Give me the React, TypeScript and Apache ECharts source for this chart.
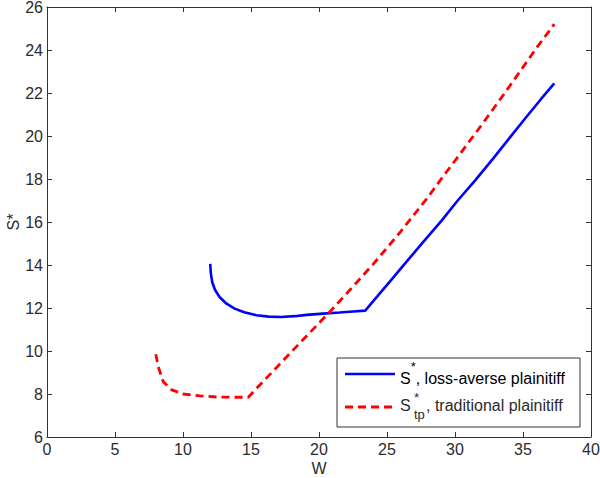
import React, { useEffect, useRef } from "react";
import * as echarts from "echarts";

// Data
const blueW = [12.0, 12.05, 12.15, 12.35, 12.7, 13.2, 13.8, 14.5, 15.4, 16.3, 17.2, 18.2, 19.1, 20.3, 21.5, 22.5, 23.4, 24.3, 25.3, 26.5, 27.7, 29.0, 30.2, 31.5, 32.8, 34.0, 35.2, 36.3, 37.3];
const blueS = [14.05, 13.6, 13.2, 12.85, 12.5, 12.2, 11.97, 11.8, 11.66, 11.6, 11.58, 11.62, 11.68, 11.74, 11.79, 11.84, 11.88, 12.55, 13.3, 14.2, 15.1, 16.05, 17.0, 17.95, 18.95, 19.9, 20.85, 21.7, 22.45];

const redW = [8.0, 8.18, 8.55, 9.17, 10.0, 11.25, 12.5, 13.7, 14.8, 16, 18, 20, 20.7, 22, 23, 24, 26, 28, 29.1, 30, 32, 34, 36, 37.3];
const redS = [9.85, 9.27, 8.57, 8.19, 8.0, 7.91, 7.86, 7.85, 7.85, 8.65, 9.98, 11.3, 11.76, 12.65, 13.35, 14.05, 15.55, 17.15, 18.1, 18.85, 20.55, 22.3, 24.1, 25.2];

const xTicksMin = 0;
const xTicksMax = 40;
const xInterval = 5;
const yTicksMin = 6;
const yTicksMax = 26;
const yInterval = 2;

const legendLabels = [", loss-averse plainitiff", ", traditional plainitiff"];

const FONT = "'Liberation Sans', Arial, Helvetica, sans-serif";
const AXIS_COLOR = "#333";
const TEXT_COLOR = "#2b2b2b";

export default function App() {
  const ref = useRef<HTMLDivElement>(null);

  useEffect(() => {
    document.body.style.margin = "0";
    if (!ref.current) return;
    const chart = echarts.init(ref.current, undefined, { renderer: "svg" });

    const axisCommon = {
      type: "value" as const,
      axisLine: { show: true, onZero: false, lineStyle: { color: AXIS_COLOR, width: 1 } },
      axisTick: { show: true, inside: true, length: 5, lineStyle: { color: AXIS_COLOR, width: 1 } },
      splitLine: { show: false },
    };

    const blueData = blueW.map((w, i) => [w, blueS[i]]);
    const redData = redW.map((w, i) => [w, redS[i]]);

    const lx = 337, ly = 358, lw = 243, lh = 69;

    chart.setOption({
      animation: false,
      backgroundColor: "#fff",
      grid: { left: 47, right: 9, top: 7, bottom: 41, containLabel: false, outerBoundsMode: "none" },
      xAxis: [
        {
          ...axisCommon,
          position: "bottom",
          min: xTicksMin,
          max: xTicksMax,
          interval: xInterval,
          axisLabel: { show: true, color: TEXT_COLOR, fontSize: 16, fontFamily: FONT, margin: 4 },
          name: "W",
          nameLocation: "middle",
          nameGap: 23,
          nameMoveOverlap: false,
          nameTextStyle: { color: TEXT_COLOR, fontSize: 16, fontFamily: FONT },
        },
        {
          ...axisCommon,
          position: "top",
          min: xTicksMin,
          max: xTicksMax,
          interval: xInterval,
          axisLabel: { show: false },
        },
      ],
      yAxis: [
        {
          ...axisCommon,
          position: "left",
          min: yTicksMin,
          max: yTicksMax,
          interval: yInterval,
          axisLabel: { show: true, color: TEXT_COLOR, fontSize: 16, fontFamily: FONT, margin: 4 },
          name: "S*",
          nameLocation: "middle",
          nameRotate: 90,
          nameGap: 26,
          nameMoveOverlap: false,
          nameTextStyle: { color: TEXT_COLOR, fontSize: 16, fontFamily: FONT },
        },
        {
          ...axisCommon,
          position: "right",
          min: yTicksMin,
          max: yTicksMax,
          interval: yInterval,
          axisLabel: { show: false },
        },
      ],
      series: [
        {
          type: "line",
          xAxisIndex: 0,
          yAxisIndex: 0,
          data: blueData,
          showSymbol: false,
          symbol: "none",
          lineStyle: { color: "#0000ff", width: 2.6 },
        },
        {
          type: "line",
          xAxisIndex: 0,
          yAxisIndex: 0,
          data: redData,
          showSymbol: false,
          symbol: "none",
          lineStyle: { color: "#ff0000", width: 2.8, type: [8, 5] },
        },
      ],
      graphic: [
        {
          type: "rect",
          shape: { x: lx, y: ly, width: lw, height: lh },
          style: { fill: "#fff", stroke: AXIS_COLOR, lineWidth: 1 },
          z: 100,
        },
        {
          type: "line",
          shape: { x1: 345, y1: 374, x2: 395, y2: 374 },
          style: { stroke: "#0000ff", lineWidth: 2.6 },
          z: 101,
        },
        {
          type: "line",
          shape: { x1: 345, y1: 407, x2: 395, y2: 407 },
          style: { stroke: "#ff0000", lineWidth: 2.8, lineDash: [8, 5] },
          z: 101,
        },
        // line 1 text (rich: S with superscript *)
        {
          type: "text", x: 400, y: 373, z: 101,
          style: {
            text: "{m|S}{sup|*}{m|" + legendLabels[0] + "}",
            textVerticalAlign: "middle",
            rich: {
              m: { fontSize: 16, fontFamily: FONT, color: TEXT_COLOR, lineHeight: 26, verticalAlign: "bottom" },
              sup: { fontSize: 13, fontFamily: FONT, color: TEXT_COLOR, lineHeight: 14, verticalAlign: "top" },
            },
          },
        },
        // line 2 text
        {
          type: "text", x: 400, y: 405, z: 101,
          style: { text: "S", font: `16px ${FONT}`, fill: TEXT_COLOR, textVerticalAlign: "middle" },
        },
        {
          type: "text", x: 414, y: 397, z: 101,
          style: { text: "*", font: `13px ${FONT}`, fill: TEXT_COLOR, textVerticalAlign: "middle" },
        },
        {
          type: "text", x: 414, y: 414, z: 101,
          style: { text: "tp", font: `13px ${FONT}`, fill: TEXT_COLOR, textVerticalAlign: "middle" },
        },
        {
          type: "text", x: 426, y: 405, z: 101,
          style: { text: legendLabels[1], font: `16px ${FONT}`, fill: TEXT_COLOR, textVerticalAlign: "middle" },
        },
      ],
    });

    return () => {
      chart.dispose();
    };
  }, []);

  return (
    <div
      ref={ref}
      style={{ position: "fixed", left: 0, top: 0, width: 600, height: 478, background: "#fff" }}
    />
  );
}
